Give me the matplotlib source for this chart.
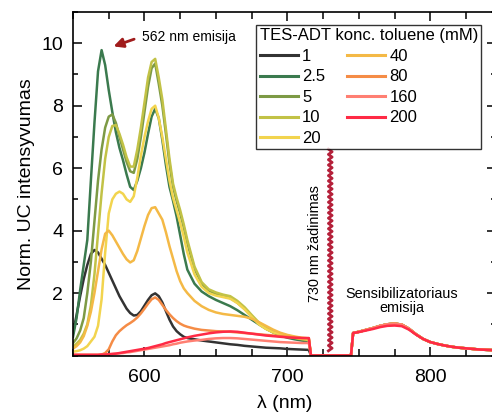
import matplotlib
matplotlib.use('Agg')
import matplotlib.pyplot as plt
import numpy as np
from matplotlib.ticker import MultipleLocator

plt.rcParams['font.family'] = ['Liberation Sans', 'DejaVu Sans']

# wavelength grid (nm) for the upconversion part
wl_uc = [550, 552.5, 555, 557.5, 560, 562.5, 565, 567.5, 570, 572.5, 575, 577.5,
         580, 582.5, 585, 587.5, 590, 592.5, 595, 597.5, 600, 602.5, 605, 607.5,
         610, 612.5, 615, 617.5, 620, 622.5, 625, 627.5, 630, 635, 640, 645, 650,
         655, 660, 665, 670, 675, 680, 685, 690, 695, 700, 705, 710, 715]

# sensitizer part (laser region cut out)
wl_sens = [716.5, 744.5, 746, 750, 755, 760, 765, 770, 775, 780, 785, 790, 795,
           800, 805, 810, 815, 820, 825, 830, 835, 840, 845, 850]
sens_main = [0, 0, 0.72, 0.76, 0.82, 0.88, 0.95, 1.0, 1.02, 0.99, 0.86, 0.68, 0.53,
             0.43, 0.37, 0.32, 0.28, 0.25, 0.23, 0.21, 0.19, 0.18, 0.17, 0.16]
sens_red = [0, 0, 0.72, 0.75, 0.8, 0.85, 0.91, 0.95, 0.96, 0.94, 0.83, 0.67, 0.53,
            0.43, 0.37, 0.32, 0.28, 0.25, 0.23, 0.21, 0.19, 0.18, 0.17, 0.16]

c1 = [0.72, 1.3, 1.9, 2.45, 2.9, 3.25, 3.38, 3.3, 3.1, 2.9, 2.65, 2.4,
      2.15, 1.9, 1.7, 1.5, 1.36, 1.28, 1.3, 1.42, 1.6, 1.78, 1.93, 1.99,
      1.9, 1.7, 1.42, 1.15, 0.93, 0.78, 0.68, 0.6, 0.56, 0.52, 0.48, 0.45, 0.42,
      0.39, 0.36, 0.34, 0.31, 0.29, 0.27, 0.25, 0.24, 0.23, 0.21, 0.2, 0.19, 0.18]
c2_5 = [0.6, 1.2, 2.1, 2.9, 3.7, 5.6, 7.45, 9.1, 9.78, 9.3, 8.5, 7.8,
        7.15, 6.65, 6.25, 5.8, 5.4, 5.3, 5.6, 6.0, 6.5, 7.1, 7.65, 7.9,
        7.6, 6.9, 6.1, 5.4, 4.95, 4.45, 3.85, 3.25, 2.75, 2.3, 2.05, 1.9, 1.78,
        1.68, 1.58, 1.45, 1.3, 1.15, 1.0, 0.86, 0.74, 0.64, 0.57, 0.52, 0.48, 0.45]
c5 = [0.4, 0.55, 0.8, 1.2, 2.0, 3.0, 4.3, 5.6, 6.6, 7.3, 7.65, 7.72,
      7.45, 7.0, 6.6, 6.2, 5.9, 5.85, 6.3, 7.0, 7.8, 8.6, 9.2, 9.35,
      8.7, 8.0, 7.1, 6.15, 5.4, 4.95, 4.55, 4.1, 3.6, 2.78, 2.3, 2.08, 1.97,
      1.9, 1.84, 1.69, 1.49, 1.25, 1.02, 0.86, 0.75, 0.67, 0.61, 0.56, 0.52, 0.5]
c10 = [0.28, 0.38, 0.5, 0.7, 1.0, 1.6, 2.6, 3.9, 5.2, 6.3, 7.0, 7.35,
       7.38, 7.1, 6.75, 6.35, 6.05, 6.05, 6.6, 7.3, 8.1, 8.9, 9.4, 9.5,
       8.9, 8.2, 7.25, 6.3, 5.5, 5.05, 4.65, 4.2, 3.7, 2.85, 2.35, 2.12, 2.02,
       1.95, 1.9, 1.75, 1.55, 1.3, 1.06, 0.9, 0.78, 0.7, 0.64, 0.59, 0.55, 0.52]
c20 = [0.12, 0.14, 0.17, 0.22, 0.3, 0.45, 0.6, 0.95, 1.8, 3.3, 4.55, 5.0,
       5.18, 5.25, 5.18, 5.0, 4.92, 5.1, 5.7, 6.4, 7.0, 7.5, 7.9, 8.0,
       7.6, 7.0, 6.3, 5.6, 5.05, 4.65, 4.25, 3.8, 3.3, 2.6, 2.2, 2.0, 1.92,
       1.87, 1.82, 1.68, 1.48, 1.24, 1.0, 0.85, 0.74, 0.67, 0.61, 0.57, 0.53, 0.5]
c40 = [0.22, 0.3, 0.42, 0.62, 0.95, 1.4, 2.0, 2.7, 3.4, 3.9, 4.0, 3.85,
       3.65, 3.45, 3.25, 3.08, 2.98, 3.05, 3.35, 3.75, 4.15, 4.5, 4.72, 4.75,
       4.55, 4.35, 3.95, 3.5, 3.1, 2.7, 2.38, 2.15, 2.0, 1.75, 1.58, 1.46, 1.38,
       1.33, 1.3, 1.27, 1.24, 1.18, 1.07, 0.95, 0.83, 0.73, 0.66, 0.61, 0.57, 0.55]
c80 = [0.02, 0.02, 0.02, 0.02, 0.02, 0.02, 0.02, 0.02, 0.03, 0.08, 0.2, 0.45,
       0.65, 0.78, 0.88, 0.97, 1.04, 1.12, 1.22, 1.35, 1.5, 1.66, 1.8, 1.86,
       1.78, 1.62, 1.46, 1.32, 1.2, 1.1, 1.02, 0.96, 0.92, 0.86, 0.82, 0.8, 0.78,
       0.77, 0.76, 0.74, 0.72, 0.7, 0.68, 0.66, 0.64, 0.62, 0.6, 0.58, 0.56, 0.55]
c160 = [0.02, 0.02, 0.02, 0.02, 0.02, 0.02, 0.02, 0.02, 0.03, 0.03, 0.04, 0.05,
        0.06, 0.07, 0.08, 0.1, 0.11, 0.13, 0.15, 0.17, 0.19, 0.21, 0.23, 0.25,
        0.27, 0.29, 0.31, 0.33, 0.36, 0.38, 0.41, 0.43, 0.45, 0.48, 0.5, 0.53, 0.55,
        0.56, 0.56, 0.55, 0.53, 0.51, 0.49, 0.47, 0.45, 0.43, 0.42, 0.41, 0.4, 0.4]
c200 = [0.02, 0.02, 0.02, 0.02, 0.02, 0.02, 0.02, 0.02, 0.03, 0.03, 0.04, 0.05,
        0.06, 0.08, 0.1, 0.12, 0.14, 0.16, 0.18, 0.2, 0.22, 0.24, 0.27, 0.3,
        0.33, 0.36, 0.4, 0.43, 0.46, 0.49, 0.52, 0.55, 0.58, 0.63, 0.67, 0.71, 0.74,
        0.76, 0.77, 0.76, 0.73, 0.7, 0.67, 0.64, 0.62, 0.6, 0.58, 0.57, 0.56, 0.56]

labels = ['1', '2.5', '5', '10', '20', '40', '80', '160', '200']
series = [c1, c2_5, c5, c10, c20, c40, c80, c160, c200]
colors = ['#333333', '#3b7a4e', '#7d9a45', '#c2c246', '#f2d44e',
          '#f4b946', '#f58c46', '#ff7f72', '#ff2a45']

fig = plt.figure(figsize=(4.92, 4.16), dpi=100)
ax = fig.add_axes([0.1484, 0.1454, 0.8598, 0.8257])

for lab, vals, col in zip(labels, series, colors):
    sens = sens_red if lab == '200' else sens_main
    ax.plot(wl_uc + wl_sens, vals + sens, color=col, lw=1.8, label=lab,
            solid_joinstyle='round')

# 730 nm excitation marker (twisted band)
zz_y = np.arange(0.15, 6.65, 0.085)
zz_x = 730 + 1.3 * np.where(np.arange(len(zz_y)) % 2 == 0, -1, 1)
ax.plot(zz_x, zz_y, color='#b5203a', lw=2.0)

ax.set_xlim(550, 846)
ax.set_ylim(0, 11)
ax.set_xticks([600, 700, 800])
ax.xaxis.set_minor_locator(MultipleLocator(25))
ax.set_yticks([2, 4, 6, 8, 10])
ax.yaxis.set_minor_locator(MultipleLocator(1))
ax.tick_params(which='both', direction='in', top=True, right=True, width=1.1,
               labelsize=14, pad=7)
ax.tick_params(axis='x', which='both', pad=10)
ax.tick_params(which='major', length=6.5)
ax.tick_params(which='minor', length=3.5)
ax.tick_params(axis='x', which='minor', length=5)
for s in ax.spines.values():
    s.set_linewidth(1.2)

ax.set_xlabel('λ (nm)', fontsize=14, labelpad=6)
ax.set_ylabel('Norm. UC intensyvumas', fontsize=14, labelpad=5)

ax.annotate('', xy=(576.5, 9.87), xytext=(594.6, 10.16),
            arrowprops=dict(arrowstyle='-|>', color='#a01c1c', lw=2,
                            mutation_scale=14))
ax.text(598.5, 10.2, '562 nm emisija', fontsize=10, va='center', ha='left')
ax.text(719.3, 3.6, '730 nm žadinimas', fontsize=10.4, rotation=90,
        va='center', ha='center')
ax.text(780, 1.74, 'Sensibilizatoriaus\nemisija', fontsize=10.4, ha='center',
        va='center', linespacing=1.0)

leg = ax.legend(title='TES-ADT konc. toluene (mM)', ncol=2, fontsize=12,
                title_fontsize=12, loc='upper right',
                bbox_to_anchor=(0.965, 0.962), borderaxespad=0,
                frameon=True, fancybox=False, edgecolor='black',
                handlelength=2.3, labelspacing=0.33, columnspacing=1.3,
                handletextpad=0.25, borderpad=0.2)
leg.get_frame().set_linewidth(1.0)
leg._legend_box.align = 'left'
for h in leg.get_lines():
    h.set_linewidth(2.2)

fig.savefig('out.png', dpi=100)
